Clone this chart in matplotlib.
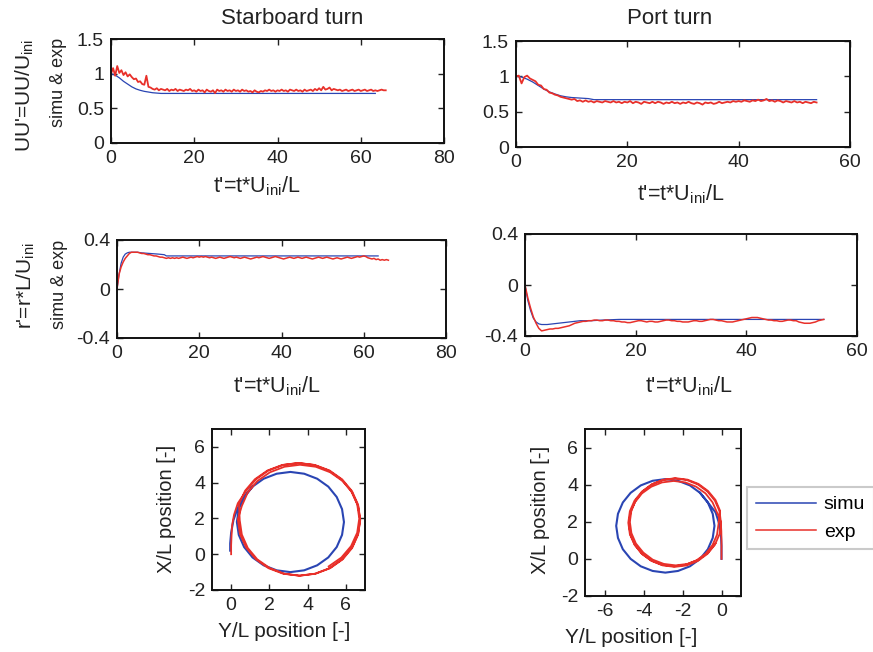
"""Turning-circle manoeuvre: simulation vs. experiment (starboard and port turns)."""

import matplotlib

matplotlib.use("Agg")
import matplotlib.pyplot as plt
import numpy as np
from matplotlib.ticker import FuncFormatter

plt.rcParams["font.family"] = ["Liberation Sans", "DejaVu Sans"]
plt.rcParams["axes.unicode_minus"] = False

SIMU_COLOR = "#2a45b3"
EXP_COLOR = "#e8302a"
W, H = 873, 652

# ---- speed ratio U' (starboard) ----
sb_u_exp_t = np.linspace(0, 66, 133)
sb_u_exp = [
    1.00, 1.08, 0.97, 1.11, 1.01, 1.05, 0.98, 1.02, 0.96, 0.99,
    0.95, 0.92, 0.93, 0.88, 0.89, 0.85, 0.84, 0.97, 0.81, 0.80,
    0.78, 0.77, 0.79, 0.76, 0.78, 0.77, 0.76, 0.78, 0.75, 0.77,
    0.76, 0.78, 0.75, 0.77, 0.76, 0.75, 0.77, 0.76, 0.78, 0.75,
    0.76, 0.74, 0.77, 0.75, 0.76, 0.73, 0.77, 0.75, 0.74, 0.76,
    0.72, 0.77, 0.75, 0.76, 0.74, 0.77, 0.75, 0.76, 0.74, 0.77,
    0.75, 0.76, 0.74, 0.77, 0.75, 0.76, 0.74, 0.75, 0.73, 0.76,
    0.74, 0.73, 0.75, 0.74, 0.76, 0.75, 0.77, 0.75, 0.76, 0.74,
    0.76, 0.75, 0.77, 0.75, 0.76, 0.74, 0.77, 0.76, 0.75, 0.77,
    0.75, 0.76, 0.74, 0.77, 0.75, 0.76, 0.77, 0.75, 0.78, 0.76,
    0.79, 0.76, 0.81, 0.77, 0.78, 0.80, 0.76, 0.78, 0.77, 0.76,
    0.77, 0.75, 0.76, 0.77, 0.75, 0.76, 0.77, 0.75, 0.76, 0.77,
    0.75, 0.76, 0.77, 0.75, 0.76, 0.77, 0.75, 0.76, 0.75, 0.76,
    0.77, 0.76, 0.76,
]
sb_u_sim_t = [0, 1, 2, 3, 4, 5, 6, 7, 8, 9, 10, 11, 12, 15, 20, 30, 40, 50, 60, 63.5]
sb_u_sim = [1.0, 0.98, 0.94, 0.89, 0.85, 0.81, 0.78, 0.76, 0.745, 0.735,
            0.725, 0.72, 0.715, 0.715, 0.715, 0.715, 0.715, 0.715, 0.715, 0.715]

# ---- speed ratio U' (port) ----
pt_u_exp_t = np.linspace(0, 54, 109)
pt_u_exp = [
    1.00, 1.01, 0.90, 0.99, 1.01, 0.97, 0.95, 0.93, 0.88, 0.87,
    0.82, 0.81, 0.77, 0.76, 0.74, 0.73, 0.71, 0.70, 0.69, 0.68,
    0.67, 0.68, 0.65, 0.66, 0.64, 0.66, 0.64, 0.65, 0.63, 0.65,
    0.64, 0.63, 0.65, 0.64, 0.63, 0.65, 0.63, 0.64, 0.62, 0.64,
    0.63, 0.65, 0.62, 0.64, 0.63, 0.61, 0.64, 0.63, 0.62, 0.64,
    0.62, 0.64, 0.63, 0.61, 0.63, 0.62, 0.64, 0.62, 0.63, 0.61,
    0.63, 0.62, 0.64, 0.62, 0.61, 0.63, 0.62, 0.60, 0.63, 0.62,
    0.63, 0.61, 0.62, 0.64, 0.62, 0.63, 0.64, 0.63, 0.65, 0.64,
    0.65, 0.64, 0.66, 0.65, 0.64, 0.66, 0.65, 0.67, 0.65, 0.66,
    0.68, 0.65, 0.66, 0.64, 0.66, 0.65, 0.63, 0.65, 0.64, 0.63,
    0.65, 0.63, 0.64, 0.62, 0.64, 0.63, 0.62, 0.64, 0.63,
]
pt_u_sim_t = [0, 1, 2, 3, 4, 5, 6, 7, 8, 9, 10, 11, 12, 13, 14, 20, 30, 40, 50, 54]
pt_u_sim = [1.0, 0.99, 0.96, 0.92, 0.87, 0.82, 0.78, 0.75, 0.725, 0.71,
            0.70, 0.695, 0.69, 0.685, 0.67, 0.67, 0.67, 0.67, 0.67, 0.67]

# ---- yaw rate r' (starboard) ----
sb_r_exp_t = np.linspace(0, 66, 133)
sb_r_exp = [
    0.00, 0.12, 0.18, 0.22, 0.25, 0.27, 0.29, 0.30, 0.30, 0.30,
    0.30, 0.295, 0.29, 0.29, 0.285, 0.28, 0.28, 0.275, 0.27, 0.27,
    0.265, 0.26, 0.26, 0.255, 0.25, 0.255, 0.25, 0.255, 0.25, 0.255,
    0.25, 0.255, 0.26, 0.255, 0.25, 0.255, 0.26, 0.255, 0.26, 0.265,
    0.26, 0.265, 0.26, 0.265, 0.26, 0.255, 0.26, 0.255, 0.25, 0.255,
    0.26, 0.255, 0.25, 0.255, 0.26, 0.265, 0.26, 0.255, 0.26, 0.255,
    0.25, 0.255, 0.26, 0.255, 0.25, 0.245, 0.25, 0.255, 0.26, 0.255,
    0.26, 0.265, 0.26, 0.255, 0.25, 0.255, 0.26, 0.265, 0.26, 0.255,
    0.25, 0.245, 0.25, 0.255, 0.26, 0.255, 0.25, 0.255, 0.26, 0.255,
    0.25, 0.255, 0.26, 0.255, 0.25, 0.245, 0.25, 0.255, 0.26, 0.255,
    0.25, 0.255, 0.26, 0.255, 0.25, 0.245, 0.25, 0.255, 0.25, 0.245,
    0.25, 0.255, 0.26, 0.255, 0.25, 0.255, 0.26, 0.265, 0.26, 0.265,
    0.27, 0.265, 0.255, 0.25, 0.245, 0.25, 0.24, 0.245, 0.235, 0.24,
    0.235, 0.24, 0.235,
]
sb_r_sim_t = [0, 0.5, 1, 1.5, 2, 2.5, 3, 4, 5, 6, 8, 10, 11.5, 12, 20, 30, 40, 50, 60, 63.5]
sb_r_sim = [0.0, 0.12, 0.21, 0.26, 0.285, 0.295, 0.30, 0.30, 0.30, 0.295,
            0.29, 0.285, 0.28, 0.27, 0.27, 0.27, 0.27, 0.27, 0.27, 0.27]

# ---- yaw rate r' (port) ----
pt_r_exp_t = np.linspace(0, 54, 109)
pt_r_exp = [
    0.00, -0.10, -0.18, -0.25, -0.30, -0.34, -0.36, -0.355, -0.35, -0.345,
    -0.345, -0.34, -0.34, -0.335, -0.33, -0.325, -0.32, -0.31, -0.30, -0.295,
    -0.29, -0.285, -0.285, -0.28, -0.28, -0.275, -0.275, -0.28, -0.28, -0.275,
    -0.275, -0.28, -0.28, -0.285, -0.285, -0.29, -0.29, -0.295, -0.295, -0.29,
    -0.285, -0.28, -0.28, -0.285, -0.29, -0.285, -0.285, -0.29, -0.29, -0.285,
    -0.28, -0.275, -0.275, -0.28, -0.28, -0.285, -0.285, -0.29, -0.29, -0.29,
    -0.285, -0.28, -0.28, -0.285, -0.285, -0.28, -0.275, -0.27, -0.27, -0.275,
    -0.28, -0.28, -0.285, -0.29, -0.29, -0.29, -0.285, -0.28, -0.275, -0.27,
    -0.265, -0.26, -0.255, -0.255, -0.255, -0.26, -0.265, -0.27, -0.275, -0.275,
    -0.28, -0.28, -0.285, -0.285, -0.28, -0.275, -0.275, -0.28, -0.28, -0.29,
    -0.295, -0.30, -0.30, -0.30, -0.295, -0.29, -0.28, -0.275, -0.27,
]
pt_r_sim_t = [0, 0.5, 1, 1.5, 2, 2.5, 3, 4, 5, 6, 7, 8, 9, 10, 12, 14, 17, 20, 30, 40, 50, 54]
pt_r_sim = [0.0, -0.12, -0.20, -0.26, -0.29, -0.305, -0.31, -0.31, -0.305, -0.30, -0.295,
            -0.29, -0.285, -0.28, -0.28, -0.275, -0.27, -0.27, -0.27, -0.27, -0.27, -0.27]

# ---- trajectories (Y/L horizontal, X/L vertical) ----
sb_traj_exp_y = [
    0.00, 0.00, 0.02, 0.05, 0.15, 0.35,
    0.78, 1.29, 1.95, 2.72, 3.55, 4.38, 5.15, 5.81, 6.32, 6.64, 6.75, 6.64,
    6.32, 5.81, 5.15, 4.38, 3.55, 2.72, 1.95, 1.29, 0.78, 0.46, 0.35,
    0.56, 0.87, 1.37, 2.03, 2.79, 3.60, 4.42, 5.18, 5.83, 6.33, 6.64, 6.75,
    6.64, 6.33, 5.83, 5.18, 4.42, 3.60, 2.79, 2.03, 1.37, 0.87, 0.56, 0.45,
    0.41, 0.73, 1.24, 1.90, 2.67, 3.50, 4.33, 5.10, 5.76, 6.27, 6.59, 6.70,
    6.59, 6.27, 5.76, 5.10,
]
sb_traj_exp_x = [
    0.00, 0.50, 1.00, 1.60, 2.20, 2.85,
    3.53, 4.18, 4.68, 4.99, 5.10, 4.99, 4.68, 4.18, 3.53, 2.77, 1.95, 1.13,
    0.38, -0.28, -0.78, -1.09, -1.20, -1.09, -0.78, -0.28, 0.38, 1.13, 1.95,
    2.70, 3.45, 4.09, 4.58, 4.89, 5.00, 4.89, 4.58, 4.09, 3.45, 2.70, 1.90,
    1.10, 0.35, -0.29, -0.78, -1.09, -1.20, -1.09, -0.78, -0.29, 0.35, 1.10, 1.90,
    2.80, 3.55, 4.19, 4.68, 4.99, 5.10, 4.99, 4.68, 4.19, 3.55, 2.80, 2.00,
    1.20, 0.45, -0.19, -0.68,
]
sb_traj_sim_y = [
    -0.05, -0.05, 0.00, 0.12, 0.35,
    0.68, 1.12, 1.70, 2.38, 3.10, 3.82, 4.50, 5.08, 5.52, 5.80, 5.90, 5.80,
    5.52, 5.08, 4.50, 3.82, 3.10, 2.38, 1.70, 1.12, 0.68, 0.40, 0.30,
    0.40, 0.68, 1.12,
]
sb_traj_sim_x = [
    0.20, 0.60, 1.20, 1.90, 2.60,
    3.20, 3.78, 4.22, 4.50, 4.60, 4.50, 4.22, 3.78, 3.20, 2.52, 1.80, 1.08,
    0.40, -0.18, -0.62, -0.90, -1.00, -0.90, -0.62, -0.18, 0.40, 1.08, 1.80,
    2.52, 3.20, 3.78,
]

pt_traj_exp_y = [
    0.00, 0.00, 0.00, -0.01, -0.04,
    -0.10, -0.34, -0.72, -1.21, -1.78, -2.40, -3.02, -3.59, -4.08, -4.46, -4.70, -4.78,
    -4.70, -4.46, -4.08, -3.59, -3.02, -2.40, -1.78, -1.21, -0.72, -0.34, -0.10, -0.02,
    -0.23, -0.46, -0.82, -1.30, -1.85, -2.45, -3.05, -3.60, -4.08, -4.44, -4.67, -4.75,
    -4.67, -4.44, -4.08, -3.60, -3.05, -2.45, -1.85, -1.30, -0.82, -0.46, -0.23, -0.15,
    -0.08, -0.31, -0.69, -1.18, -1.74, -2.35, -2.96, -3.53, -4.01, -4.39, -4.62, -4.70,
    -4.62, -4.39, -4.01, -3.53, -2.96, -2.35, -1.74, -1.18, -0.69, -0.31,
]
pt_traj_exp_x = [
    0.00, 0.50, 1.00, 1.50, 2.05,
    2.57, 3.14, 3.63, 4.01, 4.25, 4.33, 4.25, 4.01, 3.63, 3.14, 2.57, 1.95,
    1.33, 0.76, 0.27, -0.11, -0.35, -0.43, -0.35, -0.11, 0.27, 0.76, 1.33, 1.95,
    2.50, 3.05, 3.53, 3.89, 4.12, 4.20, 4.12, 3.89, 3.53, 3.05, 2.50, 1.90,
    1.30, 0.75, 0.27, -0.09, -0.32, -0.40, -0.32, -0.09, 0.27, 0.75, 1.30, 1.90,
    2.61, 3.18, 3.66, 4.04, 4.27, 4.35, 4.27, 4.04, 3.66, 3.18, 2.61, 2.00,
    1.39, 0.83, 0.34, -0.04, -0.27, -0.35, -0.27, -0.04, 0.34, 0.83,
]
pt_traj_sim_y = [
    0.00, 0.00, -0.03, -0.12, -0.30,
    -0.70, -1.10, -1.62, -2.23, -2.88, -3.53, -4.14, -4.66, -5.06, -5.31, -5.40,
    -5.31, -5.06, -4.66, -4.14, -3.53, -2.88, -2.23, -1.62, -1.10, -0.70, -0.45, -0.36,
    -0.45, -0.70, -1.10,
]
pt_traj_sim_x = [
    0.00, 0.70, 1.30, 1.90, 2.50,
    3.04, 3.56, 3.96, 4.21, 4.30, 4.21, 3.96, 3.56, 3.04, 2.43, 1.78,
    1.13, 0.52, 0.00, -0.40, -0.65, -0.74, -0.65, -0.40, 0.00, 0.52, 1.13, 1.78,
    2.43, 3.04, 3.56,
]


def px_axes(fig, left, top, right, bottom):
    """Add an axes given its frame in pixel coordinates (origin top-left)."""
    return fig.add_axes([left / W, 1 - bottom / H, (right - left) / W, (bottom - top) / H])


def style(ax, xlim, ylim, xticks, yticks):
    ax.set_xlim(*xlim)
    ax.set_ylim(*ylim)
    ax.set_xticks(xticks)
    ax.set_yticks(yticks)
    fmt = FuncFormatter(lambda v, _: f"{v:g}")
    ax.xaxis.set_major_formatter(fmt)
    ax.yaxis.set_major_formatter(fmt)
    ax.tick_params(direction="in", top=True, right=True, length=4, width=1.0,
                   labelsize=14, pad=5, colors="#222222")
    for sp in ax.spines.values():
        sp.set_linewidth(1.4)
        sp.set_color("#111111")


def ftext(fig, x, y, s, **kw):
    fig.text(x / W, 1 - y / H, s, color="#222222", **kw)


fig = plt.figure(figsize=(W / 100, H / 100), dpi=100)

ax_tl = px_axes(fig, 111, 39, 444, 143)
ax_tl.plot(sb_u_sim_t, sb_u_sim, color=SIMU_COLOR, lw=0.9)
ax_tl.plot(sb_u_exp_t, sb_u_exp, color=EXP_COLOR, lw=1.3)
style(ax_tl, (0, 80), (0, 1.5), [0, 20, 40, 60, 80], [0, 0.5, 1, 1.5])

ax_tr = px_axes(fig, 516, 41, 850, 147)
ax_tr.plot(pt_u_sim_t, pt_u_sim, color=SIMU_COLOR, lw=0.9)
ax_tr.plot(pt_u_exp_t, pt_u_exp, color=EXP_COLOR, lw=1.3)
style(ax_tr, (0, 60), (0, 1.5), [0, 20, 40, 60], [0, 0.5, 1, 1.5])

ax_ml = px_axes(fig, 117, 240, 446, 338)
ax_ml.plot(sb_r_sim_t, sb_r_sim, color=SIMU_COLOR, lw=0.9)
ax_ml.plot(sb_r_exp_t, sb_r_exp, color=EXP_COLOR, lw=1.1)
style(ax_ml, (0, 80), (-0.4, 0.4), [0, 20, 40, 60, 80], [-0.4, 0, 0.4])

ax_mr = px_axes(fig, 525, 234, 857, 336)
ax_mr.plot(pt_r_sim_t, pt_r_sim, color=SIMU_COLOR, lw=0.9)
ax_mr.plot(pt_r_exp_t, pt_r_exp, color=EXP_COLOR, lw=1.1)
style(ax_mr, (0, 60), (-0.4, 0.4), [0, 20, 40, 60], [-0.4, 0, 0.4])

ax_bl = px_axes(fig, 212, 429, 365, 590)
ax_bl.plot(sb_traj_sim_y, sb_traj_sim_x, color=SIMU_COLOR, lw=1.5)
ax_bl.plot(sb_traj_exp_y, sb_traj_exp_x, color=EXP_COLOR, lw=1.3)
style(ax_bl, (-1, 7), (-2, 7), [0, 2, 4, 6], [-2, 0, 2, 4, 6])

ax_br = px_axes(fig, 585, 429, 741, 596)
h_sim, = ax_br.plot(pt_traj_sim_y, pt_traj_sim_x, color=SIMU_COLOR, lw=1.5)
h_exp, = ax_br.plot(pt_traj_exp_y, pt_traj_exp_x, color=EXP_COLOR, lw=1.3)
style(ax_br, (-7, 1), (-2, 7), [-6, -4, -2, 0], [-2, 0, 2, 4, 6])

# column titles
ftext(fig, 292, 19, "Starboard turn", fontsize=16, ha="center", va="center")
ftext(fig, 670, 19, "Port turn", fontsize=16, ha="center", va="center")

# x labels
t_lab = "t'=t*U$_\\mathregular{ini}$/L"
ftext(fig, 213, 192, t_lab, fontsize=15.5, ha="left", va="baseline")
ftext(fig, 637, 200, t_lab, fontsize=15.5, ha="left", va="baseline")
ftext(fig, 233, 392, t_lab, fontsize=15.5, ha="left", va="baseline")
ftext(fig, 645, 392, t_lab, fontsize=15.5, ha="left", va="baseline")
ftext(fig, 218, 637, "Y/L position [-]", fontsize=15, ha="left", va="baseline")
ftext(fig, 565, 643, "Y/L position [-]", fontsize=15, ha="left", va="baseline")

# y labels
ftext(fig, 25, 39, "UU'=UU/U$_\\mathregular{ini}$", fontsize=15, rotation=90, ha="center", va="top")
ftext(fig, 59, 38, "simu & exp", fontsize=13, rotation=90, ha="center", va="top")
ftext(fig, 26, 242, "r'=r*L/U$_\\mathregular{ini}$", fontsize=15, rotation=90, ha="center", va="top")
ftext(fig, 60, 240, "simu & exp", fontsize=13, rotation=90, ha="center", va="top")
ftext(fig, 166, 509, "X/L position [-]", fontsize=14.5, rotation=90, ha="center", va="center")
ftext(fig, 541, 510, "X/L position [-]", fontsize=14.5, rotation=90, ha="center", va="center")

leg = fig.legend([h_sim, h_exp], ["simu", "exp"], loc="upper left",
                 bbox_to_anchor=(747 / W, 1 - 487 / H), fontsize=14, frameon=True,
                 fancybox=False, edgecolor="#bdbdbd", handlelength=3.1,
                 handletextpad=0.4, borderpad=0.45, labelspacing=0.5, borderaxespad=0)
leg.get_frame().set_linewidth(1.5)
for line in leg.get_lines():
    line.set_linewidth(1.1)

fig.savefig("out.png", dpi=100)
